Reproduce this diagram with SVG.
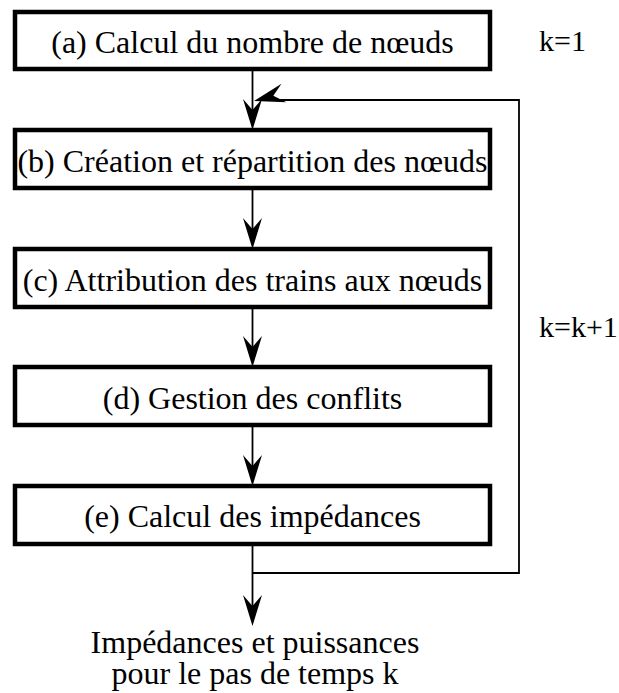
<svg xmlns="http://www.w3.org/2000/svg" width="619" height="693" viewBox="0 0 619 693">
<style>
.box{fill:#fff;stroke:#000;stroke-width:4.5}
text{font-family:'Liberation Serif','Times New Roman','DejaVu Serif',serif;font-size:32px;fill:#000}
.m{text-anchor:middle}
.k{font-size:30px}
.ln{fill:none;stroke:#000;stroke-width:1.8}
.ah{fill:#000;stroke:none}
</style>
<defs>
<path id="arr" d="M0,0 L-9.5,-31 L0,-20 L9.5,-31 Z"/>
</defs>
<rect width="619" height="693" fill="#fff"/>
<g id="connectors">
<line class="ln" x1="252.5" y1="69" x2="252.5" y2="115"/>
<line class="ln" x1="252.5" y1="188" x2="252.5" y2="233"/>
<line class="ln" x1="252.5" y1="307" x2="252.5" y2="352"/>
<line class="ln" x1="252.5" y1="425" x2="252.5" y2="471"/>
<line class="ln" x1="252.5" y1="544" x2="252.5" y2="610"/>
<polyline class="ln" points="252.5,573 519,573 519,100 270,100"/>
<use href="#arr" class="ah" transform="translate(252.5,130)"/>
<use href="#arr" class="ah" transform="translate(252.5,249)"/>
<use href="#arr" class="ah" transform="translate(252.5,367)"/>
<use href="#arr" class="ah" transform="translate(252.5,486)"/>
<use href="#arr" class="ah" transform="translate(252.5,626)"/>
<use href="#arr" class="ah" transform="translate(254,101) rotate(75)"/>
</g>
<g id="node-a">
<rect class="box" x="15" y="12" width="475" height="57"/>
<text class="m" x="252.5" y="53">(a) Calcul du nombre de nœuds</text>
</g>
<g id="node-b">
<rect class="box" x="15" y="130" width="475" height="58"/>
<text class="m" x="252.5" y="172">(b) Création et répartition des nœuds</text>
</g>
<g id="node-c">
<rect class="box" x="15" y="249" width="475" height="58"/>
<text class="m" x="252.5" y="291">(c) Attribution des trains aux nœuds</text>
</g>
<g id="node-d">
<rect class="box" x="15" y="367" width="475" height="58"/>
<text class="m" x="252.5" y="409">(d) Gestion des conflits</text>
</g>
<g id="node-e">
<rect class="box" x="15" y="486" width="475" height="58"/>
<text class="m" x="252.5" y="527">(e) Calcul des impédances</text>
</g>
<g id="labels">
<text class="k" x="539" y="51">k=1</text>
<text class="k" x="539" y="337">k=k+1</text>
<text class="m" x="255" y="653">Impédances et puissances</text>
<text class="m" x="255" y="684">pour le pas de temps k</text>
</g>
</svg>
